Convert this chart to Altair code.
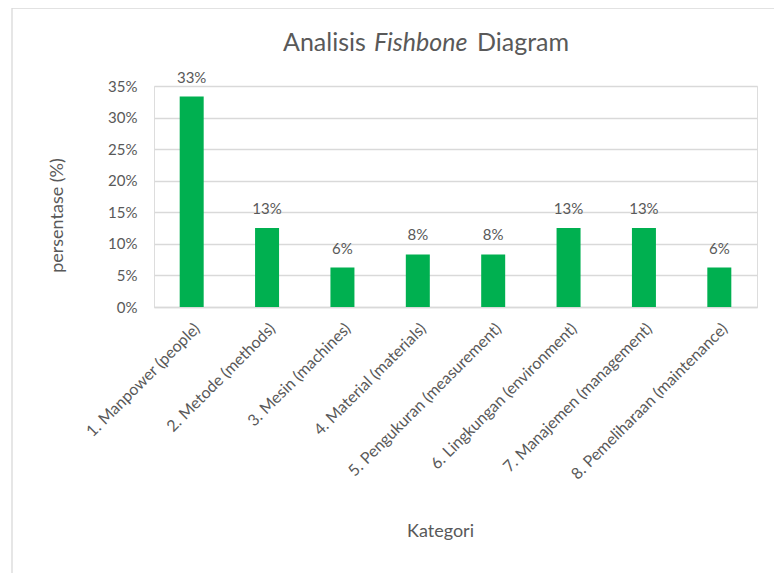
import altair as alt
import pandas as pd

categories = [
    "1. Manpower (people)",
    "2. Metode (methods)",
    "3. Mesin (machines)",
    "4. Material (materials)",
    "5. Pengukuran (measurement)",
    "6. Lingkungan (environment)",
    "7. Manajemen (management)",
    "8. Pemeliharaan (maintenance)",
]
values = [0.3333, 0.125, 0.0625, 0.0833, 0.0833, 0.125, 0.125, 0.0625]
labels = ["33%", "13%", "6%", "8%", "8%", "13%", "13%", "6%"]
y_ticks = [0, 0.05, 0.10, 0.15, 0.20, 0.25, 0.30, 0.35]

title_parts = ["Analisis", "Fishbone", "Diagram"]

df = pd.DataFrame({"Kategori": categories, "val": values, "lab": labels})

FONT = "Lato"
GREY = "#595959"

x_enc = alt.X(
    "Kategori:N",
    sort=categories,
    scale=alt.Scale(paddingInner=0.68, paddingOuter=0.34),
    axis=alt.Axis(
        title="Kategori",
        grid=False,
        labelAngle=-45,
        labelFontSize=16,
        labelColor=GREY,
        labelFont=FONT,
        labelPadding=13,
        labelLimit=0,
        labelOverlap=False,
        ticks=False,
        domainColor="#D9D9D9",
        domainWidth=1.3,
        titleFont=FONT,
        titleFontSize=18,
        titleFontWeight="normal",
        titleColor=GREY,
        titleX=286,
        titleY=224,
        titleBaseline="middle",
    ),
)

y_enc = alt.Y(
    "val:Q",
    scale=alt.Scale(domain=[0, 0.35], nice=False),
    axis=alt.Axis(
        title="persentase (%)",
        values=y_ticks,
        tickCount=8,
        format=".0%",
        labelFontSize=15,
        labelColor=GREY,
        labelFont=FONT,
        labelPadding=17,
        labelOverlap=False,
        ticks=False,
        domain=False,
        gridColor="#D9D9D9",
        gridWidth=1.3,
        titleFont=FONT,
        titleFontSize=18,
        titleFontWeight="normal",
        titleColor=GREY,
        titleX=-97,
        titleY=129,
        titleAlign="center",
        titleBaseline="middle",
    ),
)

bars = alt.Chart(df).mark_bar(color="#00B050", size=24).encode(x=x_enc, y=y_enc)

texts = alt.Chart(df).mark_text(
    font=FONT, fontSize=15, color=GREY, baseline="alphabetic", dy=-14
).encode(x=x_enc, y=y_enc, text="lab:N")

border = alt.Chart(pd.DataFrame({"a": [0]})).mark_rect(
    fill=None, stroke="#D9D9D9", strokeWidth=1.3
).encode(x=alt.value(-142), x2=alt.value(700), y=alt.value(-78), y2=alt.value(600))

t1 = alt.Chart(pd.DataFrame({"t": [title_parts[0]]})).mark_text(
    font=FONT, fontSize=25, color=GREY, align="left", baseline="alphabetic"
).encode(x=alt.value(129), y=alt.value(-35), text="t:N")
t2 = alt.Chart(pd.DataFrame({"t": [title_parts[1]]})).mark_text(
    font=FONT, fontSize=25, color=GREY, align="left", baseline="alphabetic", fontStyle="italic"
).encode(x=alt.value(220), y=alt.value(-35), text="t:N")
t3 = alt.Chart(pd.DataFrame({"t": [title_parts[2]]})).mark_text(
    font=FONT, fontSize=25, color=GREY, align="left", baseline="alphabetic"
).encode(x=alt.value(323), y=alt.value(-35), text="t:N")

chart = (
    alt.layer(border, bars, texts, t1, t2, t3)
    .properties(
        width=603,
        height=221,
        autosize=alt.AutoSizeParams(type="none"),
        padding={"left": 146, "top": 78, "right": 17, "bottom": 266},
    )
    .configure_view(strokeWidth=0, stroke="transparent")
    .configure(background="white")
)

chart.save("out.html", embed_options={"renderer": "svg", "actions": False})
